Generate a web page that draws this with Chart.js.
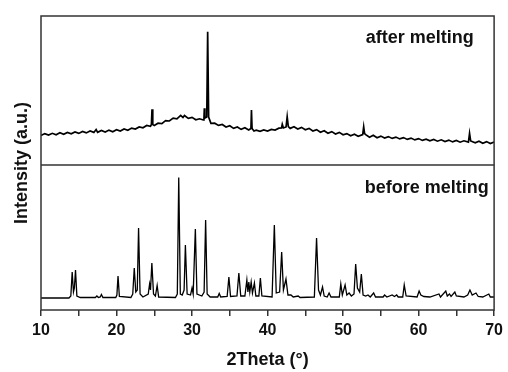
<!DOCTYPE html>
<html>
<head>
<meta charset="utf-8">
<script src="https://cdn.jsdelivr.net/npm/chart.js@4.4.1/dist/chart.umd.min.js"></script>
<style>
  html, body { margin: 0; padding: 0; background: #fff; }
  canvas { display: block; }
</style>
</head>
<body>
<canvas id="xrd" width="508" height="372"></canvas>
<script>
// 2Theta (°) / intensity (a.u.)
const beforeAngle = [
  10.0, 13.7, 13.95, 14.13, 14.3, 14.42, 14.57, 14.75, 15.2, 17.2, 17.4, 17.6, 17.85, 18.0, 18.2,
  19.9, 20.05, 20.2, 20.38, 21.9, 22.15, 22.35, 22.55, 22.75, 22.92, 23.12, 23.5, 24.2, 24.38, 24.5,
  24.68, 24.9, 25.15, 25.38, 25.58, 27.8, 28.05, 28.24, 28.45, 28.7, 28.95, 29.12, 29.35, 29.8, 30.0,
  30.15, 30.44, 30.65, 31.3, 31.6, 31.8, 32.0, 32.4, 33.4, 33.6, 33.8, 34.65, 34.88, 35.1, 35.95,
  36.2, 36.45, 37.0, 37.26, 37.4, 37.52, 37.65, 37.83, 38.0, 38.26, 38.45, 38.85, 39.05, 39.25, 40.6,
  40.9, 41.15, 41.6, 41.87, 42.1, 42.44, 42.7, 43.1, 43.4, 44.06, 44.3, 46.2, 46.49, 46.75, 47.0,
  47.28, 47.5, 47.9, 48.15, 48.4, 49.5, 49.7, 49.9, 50.27, 50.5, 50.8, 51.1, 51.45, 51.67, 51.9,
  52.2, 52.42, 52.65, 53.0, 53.3, 53.6, 54.05, 54.3, 55.3, 55.5, 55.8, 56.5, 56.8, 57.1, 57.3,
  57.9, 58.1, 58.35, 59.8, 60.07, 60.3, 60.7, 61.5, 62.7, 62.9, 63.6, 63.8, 64.1, 64.3, 64.8,
  65.0, 66.0, 66.5, 66.8, 67.1, 67.6, 67.9, 68.5, 69.3, 69.5, 70.0
];
const beforeIntensity = [
  12, 12, 14, 38, 18, 22, 40, 14, 12.5, 12.5, 14, 12.5, 13, 15.5, 12.5,
  12.5, 15, 34, 13.5, 12.5, 16, 42, 18, 20, 82, 16, 13, 16, 26, 20,
  47, 16, 14, 24.5, 13, 12.5, 16, 132.5, 16, 15, 20, 65, 16, 15, 22,
  16, 81, 16, 14, 18, 90, 16, 13, 13, 16.5, 13, 13.5, 33, 13.5, 14,
  37, 14, 14, 30, 18, 28, 18, 28, 17, 27, 14, 14, 32, 14, 13,
  85, 17, 18, 58, 20, 31, 15, 15, 13, 14, 12.5, 13, 72, 20, 15,
  23, 14, 13, 17, 13, 13, 26, 15, 25, 15, 17, 14, 16, 46, 22,
  18, 36, 15, 14, 15, 13, 17, 13, 13, 15, 13, 15, 13.5, 15, 13,
  13, 25, 14, 13, 19, 15, 13.5, 13, 16, 13, 19, 14, 16, 13.5, 18,
  14, 13, 15, 20, 15, 17, 13.5, 13, 16, 13, 13
];

const afterAngle = [
  10.0, 10.5, 11.0, 11.5, 12.0, 12.5, 13.0, 13.5, 14.0, 14.5, 15.0, 15.5, 16.0, 16.5, 17.0,
  17.3, 17.5, 18.0, 18.5, 19.0, 19.5, 20.0, 20.5, 21.0, 21.5, 22.0, 22.5, 23.0, 23.5, 24.0,
  24.5, 24.62, 24.7, 24.8, 25.0, 25.5, 26.0, 26.5, 27.0, 27.5, 28.0, 28.5, 28.8, 29.0, 29.5,
  30.0, 30.5, 31.0, 31.5, 31.58, 31.63, 31.7, 31.95, 32.07, 32.2, 32.5, 33.0, 33.5, 34.0, 34.5,
  35.0, 35.5, 36.0, 36.5, 37.0, 37.5, 37.8, 37.87, 37.95, 38.2, 38.5, 39.0, 39.5, 40.0, 40.5,
  41.0, 41.5, 41.85, 41.95, 42.1, 42.45, 42.6, 42.75, 43.0, 43.5, 44.0, 44.5, 45.0, 45.5, 46.0,
  46.5, 47.0, 47.5, 48.0, 48.5, 49.0, 49.5, 50.0, 50.5, 51.0, 51.5, 52.0, 52.6, 52.73, 52.85,
  53.0, 53.5, 54.0, 54.5, 55.0, 55.5, 56.0, 56.5, 57.0, 57.5, 58.0, 58.5, 59.0, 59.5, 60.0,
  60.5, 61.0, 61.5, 62.0, 62.5, 63.0, 63.5, 64.0, 64.5, 65.0, 65.5, 66.0, 66.6, 66.75, 66.9,
  67.5, 68.0, 68.5, 69.0, 69.5, 70.0
];
const afterIntensity = [
  29.6, 31.4, 29.9, 31.7, 30.3, 32.2, 30.7, 32.6, 31.2, 33.1, 31.6, 33.6, 32.1, 34.0, 32.6,
  35.5, 32.7, 34.5, 32.9, 34.9, 33.3, 35.3, 33.9, 36.0, 34.7, 36.9, 35.9, 38.1, 37.2, 39.5,
  38.7, 40.5, 55.7, 40.5, 39.5, 41.8, 41.4, 44.3, 44.0, 46.9, 46.2, 49.7, 47.5, 49.5, 46.6,
  47.6, 45.2, 46.2, 45.0, 47.0, 56.7, 47.0, 48.0, 133.3, 48.0, 41.7, 41.8, 39.6, 40.5, 38.0,
  39.2, 36.6, 38.0, 35.6, 37.2, 35.0, 36.5, 55.0, 36.5, 34.0, 34.8, 33.6, 35.0, 34.0, 35.6,
  35.0, 36.8, 37.0, 40.7, 37.0, 38.0, 48.3, 38.5, 36.6, 38.2, 36.0, 37.6, 35.2, 36.6, 34.0,
  35.4, 32.8, 34.2, 31.8, 33.4, 31.0, 32.6, 30.2, 31.4, 29.2, 30.8, 28.8, 30.4, 38.3, 31.5,
  30.4, 27.7, 29.8, 27.2, 28.9, 26.9, 28.4, 26.6, 27.9, 26.1, 27.4, 25.6, 26.9, 25.1, 26.4,
  24.6, 25.9, 24.2, 25.5, 23.8, 25.2, 23.5, 24.9, 23.1, 24.6, 22.8, 24.2, 22.9, 31.7, 24.0,
  22.2, 23.8, 21.8, 23.4, 21.4, 23.0
];

const panelLabels = ['after melting', 'before melting'];
const xTitle = '2Theta (°)';
const yTitle = 'Intensity (a.u.)';

const FONT = '"Liberation Sans", Arial, sans-serif';
const INK = '#111';
const FRAME = '#333';

function toPoints(xs, ys) {
    return xs.map((x, i) => ({ x: x, y: ys[i] }));
}

// 外框、中间分隔线、面板文字和纵轴标题
const framePlugin = {
    id: 'frame',
    afterDatasetsDraw(chart) {
        const { ctx, chartArea: a, scales } = chart;
        const mid = Math.min(scales.yTop.bottom, scales.yBot.bottom);
        ctx.save();
        ctx.strokeStyle = FRAME;
        ctx.lineWidth = 1.5;
        ctx.strokeRect(a.left, a.top, a.right - a.left, a.bottom - a.top);
        ctx.beginPath();
        ctx.moveTo(a.left, mid);
        ctx.lineTo(a.right, mid);
        ctx.stroke();

        ctx.fillStyle = INK;
        ctx.font = 'bold 18px ' + FONT;
        ctx.textAlign = 'left';
        ctx.textBaseline = 'alphabetic';
        const lx = scales.x.getPixelForValue(53);
        ctx.fillText(panelLabels[0], lx, a.top + 27);
        ctx.fillText(panelLabels[1], lx - 1, mid + 28);

        ctx.translate(22, (a.top + a.bottom) / 2);
        ctx.rotate(-Math.PI / 2);
        ctx.textAlign = 'center';
        ctx.textBaseline = 'middle';
        ctx.fillText(yTitle, 0, 0);
        ctx.restore();
    }
};

const hiddenY = (min, max) => ({
    type: 'linear',
    position: 'left',
    stack: 'xrd',
    stackWeight: max - min,
    min: min,
    max: max,
    ticks: { display: false },
    grid: { display: false },
    border: { display: false },
    afterFit(scale) { scale.width = 41; }
});

new Chart(document.getElementById('xrd'), {
    type: 'line',
    data: {
        datasets: [
            {
                label: panelLabels[0],
                data: toPoints(afterAngle, afterIntensity),
                yAxisID: 'yTop',
                borderColor: '#000',
                borderWidth: 1.7,
                pointRadius: 0,
                tension: 0
            },
            {
                label: panelLabels[1],
                data: toPoints(beforeAngle, beforeIntensity),
                yAxisID: 'yBot',
                borderColor: '#000',
                borderWidth: 1.3,
                pointRadius: 0,
                tension: 0
            }
        ]
    },
    options: {
        responsive: false,
        animation: false,
        layout: { padding: { top: 16, right: 12, left: 0, bottom: 0 } },
        plugins: {
            legend: { display: false },
            tooltip: { enabled: false }
        },
        scales: {
            x: {
                type: 'linear',
                min: 10,
                max: 70,
                ticks: {
                    stepSize: 5,
                    autoSkip: false,
                    maxRotation: 0,
                    padding: 5,
                    color: INK,
                    font: { family: FONT, size: 16, weight: 'bold' },
                    callback: v => (v % 10 === 0 ? v : '')
                },
                grid: {
                    display: true,
                    drawOnChartArea: false,
                    drawTicks: true,
                    tickLength: 6,
                    color: FRAME,
                    lineWidth: 1.5
                },
                border: { display: false },
                title: {
                    display: true,
                    text: xTitle,
                    color: INK,
                    font: { family: FONT, size: 18, weight: 'bold' },
                    padding: { top: 0, bottom: 1 }
                },
                afterFit(scale) { scale.height = 62; }
            },
            // 堆叠的两个纵轴：先列出的放在下面
            yBot: hiddenY(0, 145),
            yTop: hiddenY(0, 149)
        }
    },
    plugins: [framePlugin]
});
</script>
</body>
</html>
